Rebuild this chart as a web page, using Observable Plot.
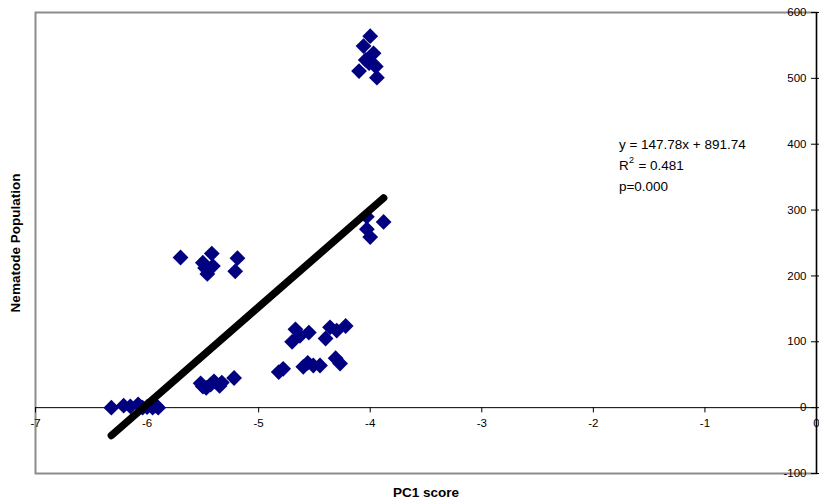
<!DOCTYPE html>
<html>
<head>
<meta charset="utf-8">
<script src="https://cdn.jsdelivr.net/npm/d3@7"></script>
<script src="https://cdn.jsdelivr.net/npm/@observablehq/plot@0.6"></script>
<style>
  html, body { margin: 0; padding: 0; background: white; overflow: hidden; }
  #chart svg { font-family: Arial, "Liberation Sans", sans-serif; display: block; }
</style>
</head>
<body>
<div id="chart"></div>
<script>
// PC1 score (x) and nematode population (y)
const pc1 = [
  -6.32, -6.21, -6.15, -6.08, -6.04, -6.00, -5.95, -5.92, -5.90,
  -5.70, -5.42, -5.50, -5.41, -5.46, -5.19, -5.21, -5.48,
  -5.52, -5.47, -5.43, -5.40, -5.35, -5.33, -5.22, -5.50,
  -4.67, -4.55, -4.70, -4.63, -4.36, -4.22, -4.40, -4.30,
  -4.82, -4.78, -4.60, -4.51, -4.45, -4.31, -4.27, -4.56,
  -4.00, -4.06, -3.97, -4.01, -4.10, -3.95, -3.94, -4.04,
  -4.03, -4.03, -4.00, -3.88
];
const nematodes = [
  0, 3, 2, 5, 0, 1, 0, 3, 0,
  228, 234, 220, 215, 203, 227, 207, 212,
  37, 30, 35, 40, 33, 38, 45, 32,
  119, 114, 100, 109, 122, 124, 105, 117,
  54, 59, 62, 64, 64, 75, 67, 68,
  564, 549, 538, 523, 511, 518, 501, 528,
  290, 271, 259, 282
];
const xTicks = [-7, -6, -5, -4, -3, -2, -1, 0];
const yTicks = [-100, 0, 100, 200, 300, 400, 500, 600];
const slope = [147.78];
const intercept = [891.74];
const eqLine = "y = 147.78x + 891.74";
const r2Value = "= 0.481";
const pLine = "p=0.000";
const xTitle = "PC1 score";
const yTitle = "Nematode Population";

const points = pc1.map((x, i) => ({x, y: nematodes[i]}));
const [xmin, xmax] = d3.extent(pc1);
const fit = [xmin, xmax].map(x => ({x, y: slope[0] * x + intercept[0]}));

const diamond = {
  draw(context, size) {
    const r = Math.sqrt(size / 2);
    context.moveTo(0, -r);
    context.lineTo(r, 0);
    context.lineTo(0, r);
    context.lineTo(-r, 0);
    context.closePath();
  }
};

const annX = -1.771;
const annFont = 13.5;

const chart = Plot.plot({
  width: 819,
  height: 501,
  marginLeft: 35,
  marginRight: 3,
  marginTop: 12,
  marginBottom: 28,
  style: {fontFamily: "Arial, 'Liberation Sans', sans-serif", fontSize: "11px", background: "white", overflow: "visible"},
  x: {domain: [-7, 0], axis: null},
  y: {domain: [-100, 600], axis: null},
  marks: [
    Plot.frame({stroke: "#8c8c8c", strokeWidth: 2}),
    Plot.ruleY([0], {stroke: "black", strokeWidth: 1}),
    Plot.ruleX([0], {stroke: "black", strokeWidth: 1.2}),
    Plot.ruleX(xTicks, {x: d => d, y1: 0, y2: -8, stroke: "black"}),
    Plot.ruleY(yTicks, {y: d => d, x1: -0.045, x2: 0.03, stroke: "black"}),
    Plot.text(xTicks, {x: d => d, y: 0, dy: 16, text: d => String(d), fill: "black", fontSize: 11.5}),
    Plot.text(yTicks, {x: 0, y: d => d, dx: -10, textAnchor: "end", text: d => String(d), fill: "black", fontSize: 11.5}),
    Plot.dot(points, {x: "x", y: "y", symbol: diamond, r: 6.3, fill: "#000080", stroke: "none"}),
    Plot.line(fit, {x: "x", y: "y", stroke: "black", strokeWidth: 7.5, strokeLinecap: "round"}),
    Plot.text([eqLine], {x: annX, y: 400, textAnchor: "start", fill: "black", fontSize: annFont}),
    Plot.text(["R"], {x: annX, y: 368, textAnchor: "start", fill: "black", fontSize: annFont}),
    Plot.text(["2"], {x: annX, y: 368, dx: 10, dy: -5, textAnchor: "start", fill: "black", fontSize: 9}),
    Plot.text([r2Value], {x: annX, y: 368, dx: 19.5, textAnchor: "start", fill: "black", fontSize: annFont}),
    Plot.text([pLine], {x: annX, y: 336, textAnchor: "start", fill: "black", fontSize: annFont}),
    Plot.text([xTitle], {frameAnchor: "bottom", dy: 19, lineAnchor: "middle", textAnchor: "middle", fontWeight: "bold", fontSize: 13.5, fill: "black"}),
    Plot.text([yTitle], {frameAnchor: "left", dx: -20, textAnchor: "middle", lineAnchor: "middle", rotate: -90, fontWeight: "bold", fontSize: 13.5, fill: "black"})
  ]
});
document.getElementById("chart").appendChild(chart);
</script>
</body>
</html>
